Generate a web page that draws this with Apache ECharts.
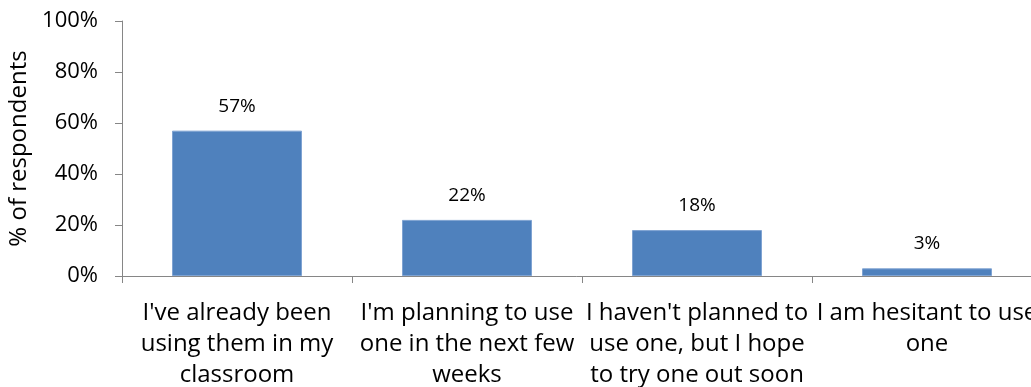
<!DOCTYPE html>
<html>
<head>
<meta charset="utf-8">
<script src="https://cdn.jsdelivr.net/npm/echarts@6/dist/echarts.min.js"></script>
<style>
  html, body { margin: 0; padding: 0; background: #fff; }
  #chart { width: 1031px; height: 387px; }
</style>
</head>
<body>
<div id="chart"></div>
<script>
// Survey responses: share of respondents per answer
const categories = [
  "I've already been\nusing them in my\nclassroom",
  "I'm planning to use\none in the next few\nweeks",
  "I haven't planned to\nuse one, but I hope\nto try one out soon",
  "I am hesitant to use\none"
];
const percentages = [57, 22, 18, 3];
const yTicks = [0, 20, 40, 60, 80, 100];

const FONT = '"Open Sans", Lato, sans-serif';
const AXIS_GRAY = '#868686';

const chart = echarts.init(document.getElementById('chart'), null, { renderer: 'canvas' });
chart.setOption({
  animation: false,
  grid: {
    left: 122, top: 21, width: 920, height: 255,
    containLabel: false,
    outerBoundsMode: 'none'
  },
  xAxis: {
    type: 'category',
    data: categories,
    axisLine: { lineStyle: { color: AXIS_GRAY, width: 1 } },
    axisTick: { show: true, length: 7, lineStyle: { color: AXIS_GRAY } },
    axisLabel: {
      interval: 0,
      color: '#000',
      fontFamily: FONT,
      fontSize: 24,
      lineHeight: 31,
      margin: 22
    }
  },
  yAxis: {
    type: 'value',
    min: yTicks[0],
    max: yTicks[yTicks.length - 1],
    interval: 20,
    name: '% of respondents',
    nameLocation: 'middle',
    nameGap: 88,
    nameRotate: 90,
    nameTextStyle: { color: '#000', fontFamily: FONT, fontSize: 24 },
    axisLine: { show: true, lineStyle: { color: AXIS_GRAY, width: 1 } },
    axisTick: { show: true, length: 7, lineStyle: { color: AXIS_GRAY } },
    splitLine: { show: false },
    axisLabel: {
      formatter: '{value}%',
      color: '#000',
      fontFamily: FONT,
      fontSize: 22,
      margin: 24
    }
  },
  series: [{
    type: 'bar',
    data: percentages,
    barWidth: 130,
    itemStyle: { color: '#4f81bd', borderColor: '#7fa3d2', borderWidth: 1 },
    label: {
      show: true,
      position: 'top',
      distance: 15,
      formatter: '{c}%',
      color: '#000',
      fontFamily: FONT,
      fontSize: 19
    }
  }]
});
</script>
</body>
</html>
